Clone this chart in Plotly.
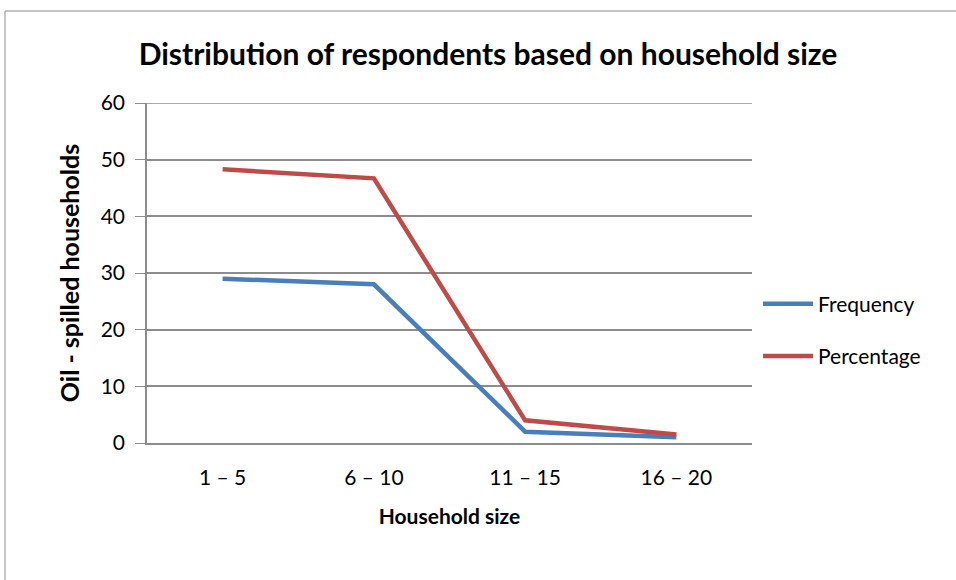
import plotly.graph_objects as go

# Household size groups and respondent counts / shares
household_size = ["1 – 5", "6 – 10", "11 – 15", "16 – 20"]
frequency = [29, 28, 2, 1]
percentage = [48.3, 46.7, 4.0, 1.5]
y_ticks = [0, 10, 20, 30, 40, 50, 60]

W, H = 956, 580
L, R, T, B = 147, 752, 103, 443  # plot area in pixels

FONT = "Lato, Open Sans, sans-serif"
GRID = "#8c8c8c"

fig = go.Figure()
fig.add_trace(go.Scatter(
    x=household_size, y=frequency, name="Frequency", mode="lines",
    legendgroup="f", line=dict(color="#4A7EBB", width=4.5),
))
fig.add_trace(go.Scatter(
    x=household_size, y=percentage, name="Percentage", mode="lines",
    legendgroup="p", line=dict(color="#BE4B48", width=4.5),
))

def px_x(p):
    return (p - L) / (R - L)

def px_y(p):
    return (B - p) / (B - T)

# outer chart frame
fig.add_shape(type="rect", xref="paper", yref="paper",
              x0=px_x(5), x1=px_x(962), y0=px_y(11), y1=px_y(590),
              line=dict(color=GRID, width=1), layer="below")
# top gridline sits on the plot edge
fig.add_shape(type="line", xref="paper", yref="y", x0=px_x(137), x1=1,
              y0=y_ticks[-1], y1=y_ticks[-1],
              line=dict(color=GRID, width=1.5), layer="below")

fig.update_layout(
    width=W, height=H,
    margin=dict(l=L, r=W - R, t=T, b=H - B, pad=0),
    paper_bgcolor="white", plot_bgcolor="white",
    font=dict(family=FONT, size=20, color="black"),
    title=dict(text="<b>Distribution of respondents based on household size</b>",
               x=px_x(488), xanchor="center", xref="paper",
               y=1 - 54 / H, yanchor="middle", yref="container",
               font=dict(size=30, family=FONT)),
    showlegend=True,
    legend=dict(x=px_x(758), xanchor="left", y=px_y(330), yanchor="middle",
                font=dict(size=21, family=FONT), itemwidth=50,
                tracegroupgap=22, bgcolor="rgba(0,0,0,0)"),
    xaxis=dict(
        type="category", range=[-0.5, 3.5], showgrid=False,
        showline=True, linecolor=GRID, linewidth=2,
        ticks="", tickfont=dict(size=21), ticklabelstandoff=15,
        title=dict(text="<b>Household size</b>", font=dict(size=21), standoff=21),
    ),
    yaxis=dict(
        range=[0, 60], tickvals=y_ticks, showgrid=True, gridcolor=GRID,
        gridwidth=1.5, showline=True, linecolor=GRID, linewidth=1.5,
        ticks="outside", ticklen=10, tickcolor=GRID, tickfont=dict(size=21),
        ticklabelstandoff=6, zeroline=False,
        title=dict(text="<b>Oil - spilled households</b>", font=dict(size=25), standoff=14),
    ),
)

fig.write_html("out.html")
